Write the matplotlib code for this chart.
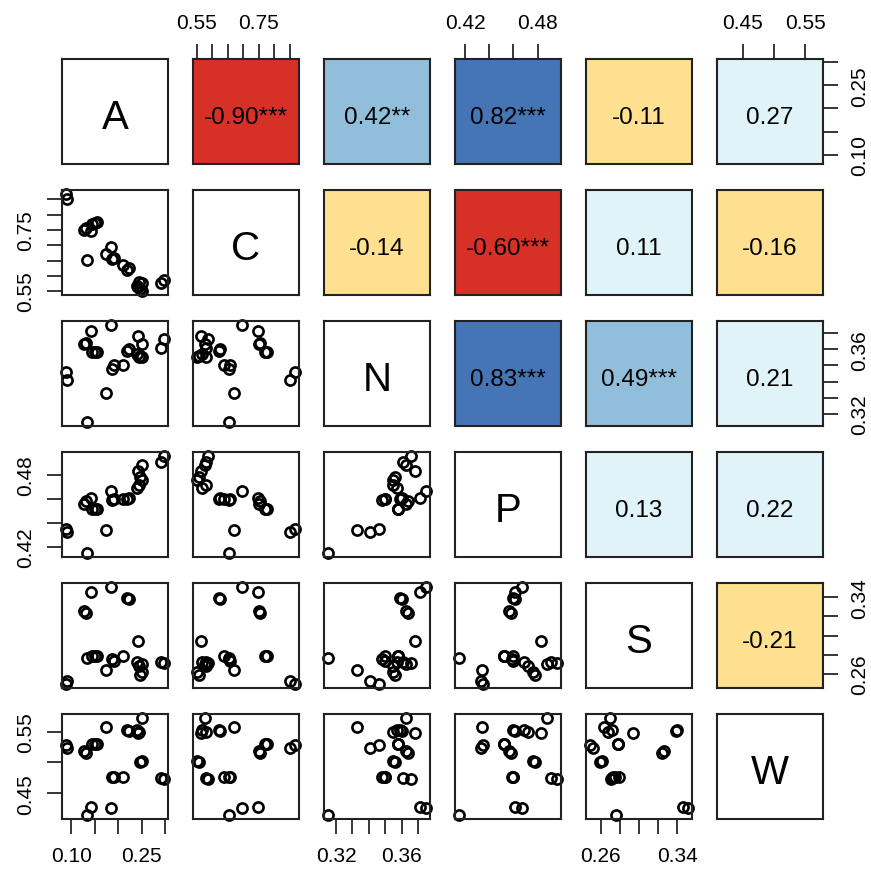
import numpy as np
import matplotlib.pyplot as plt

plt.rcParams['font.family'] = ['Liberation Sans', 'DejaVu Sans']

names = ['A', 'C', 'N', 'P', 'S', 'W']

# one value per sample
A = [0.089, 0.092, 0.143, 0.185, 0.128, 0.132, 0.145, 0.150, 0.155, 0.175, 0.133, 0.188,
     0.192, 0.210, 0.220, 0.224, 0.292, 0.298, 0.243, 0.247, 0.250, 0.252, 0.245, 0.240]
C = [0.868, 0.852, 0.747, 0.695, 0.750, 0.755, 0.770, 0.773, 0.776, 0.670, 0.653, 0.655,
     0.658, 0.637, 0.620, 0.625, 0.578, 0.585, 0.563, 0.556, 0.550, 0.576, 0.579, 0.567]
N = [0.346, 0.341, 0.371, 0.375, 0.363, 0.364, 0.358, 0.358, 0.358, 0.333, 0.315, 0.348,
     0.350, 0.350, 0.359, 0.360, 0.361, 0.366, 0.368, 0.356, 0.355, 0.363, 0.355, 0.357]
P = [0.435, 0.433, 0.461, 0.467, 0.456, 0.458, 0.452, 0.452, 0.452, 0.434, 0.415, 0.459,
     0.460, 0.460, 0.460, 0.461, 0.491, 0.496, 0.483, 0.478, 0.476, 0.488, 0.472, 0.469]
S = [0.249, 0.252, 0.346, 0.351, 0.326, 0.324, 0.278, 0.278, 0.278, 0.264, 0.276, 0.275,
     0.273, 0.279, 0.339, 0.338, 0.272, 0.271, 0.294, 0.259, 0.262, 0.270, 0.268, 0.272]
W = [0.529, 0.524, 0.428, 0.427, 0.518, 0.515, 0.530, 0.530, 0.530, 0.558, 0.415, 0.476,
     0.477, 0.476, 0.553, 0.551, 0.475, 0.474, 0.548, 0.501, 0.502, 0.572, 0.550, 0.552]

# axis ticks, R only labels some of them
A_ticks = [0.10, 0.15, 0.20, 0.25, 0.30]
A_labels = ['0.10', '', '', '0.25', '']
C_ticks = [0.55, 0.60, 0.65, 0.70, 0.75, 0.80, 0.85]
C_labels = ['0.55', '', '', '', '0.75', '', '']
N_ticks = [0.32, 0.33, 0.34, 0.35, 0.36, 0.37]
N_labels = ['0.32', '', '', '', '0.36', '']
P_ticks = [0.42, 0.44, 0.46, 0.48]
P_labels = ['0.42', '', '', '0.48']
S_ticks = [0.26, 0.28, 0.30, 0.32, 0.34]
S_labels = ['0.26', '', '', '', '0.34']
W_ticks = [0.45, 0.50, 0.55]
W_labels = ['0.45', '', '0.55']

# upper panels, row by row
cor_text = ['-0.90***', '0.42**', '0.82***', '-0.11', '0.27',
            '-0.14', '-0.60***', '0.11', '-0.16',
            '0.83***', '0.49***', '0.21',
            '0.13', '0.22',
            '-0.21']
cor_val = [-0.90, 0.42, 0.82, -0.11, 0.27,
           -0.14, -0.60, 0.11, -0.16,
           0.83, 0.49, 0.21,
           0.13, 0.22,
           -0.21]

data = [A, C, N, P, S, W]
ticks = [A_ticks, C_ticks, N_ticks, P_ticks, S_ticks, W_ticks]
labels = [A_labels, C_labels, N_labels, P_labels, S_labels, W_labels]


def cor_colour(r):
    if r <= -0.5:
        return '#D73027'
    if r < 0:
        return '#FEE090'
    if r < 0.3:
        return '#E0F3F8'
    if r < 0.7:
        return '#91BFDB'
    return '#4575B4'


def lims(v):
    lo, hi = min(v), max(v)
    d = (hi - lo) * 0.04
    return lo - d, hi + d


W_PX, H_PX = 871, 870
fig = plt.figure(figsize=(W_PX / 100, H_PX / 100), dpi=100)

n = len(names)
k = 0
for i in range(n):
    for j in range(n):
        left = 62 + 131 * j
        top = 60 + 131 * i
        ax = fig.add_axes([left / W_PX, 1 - (top + 105) / H_PX, 106 / W_PX, 105 / H_PX])
        ax.set_xlim(lims(data[j]))
        ax.set_ylim(lims(data[i]))
        for s in ax.spines.values():
            s.set_linewidth(1.5)
            s.set_color('#222222')
        ax.set_xticks([])
        ax.set_yticks([])

        if i == j:
            ax.text(0.5, 0.45, names[i], transform=ax.transAxes, ha='center', va='center',
                    fontsize=29)
        elif i > j:
            ax.plot(data[j], data[i], 'o', mfc='none', mec='black', ms=7.3, mew=1.9,
                    clip_on=False)
        else:
            ax.set_facecolor(cor_colour(cor_val[k]))
            ax.text(0.5, 0.45, cor_text[k], transform=ax.transAxes, ha='center', va='center',
                    fontsize=17.5)
            k += 1

        tp = dict(direction='out', length=10.5, width=1.1, labelsize=15, pad=9)
        if i == 0 and j % 2 == 1:
            ax.set_xticks(ticks[j])
            ax.set_xticklabels(labels[j])
            ax.xaxis.tick_top()
            ax.tick_params(axis='x', **tp)
        if i == n - 1 and j % 2 == 0:
            ax.set_xticks(ticks[j])
            ax.set_xticklabels(labels[j])
            ax.tick_params(axis='x', **tp)
        if j == 0 and i % 2 == 1:
            ax.set_yticks(ticks[i])
            ax.set_yticklabels(labels[i], rotation=90, va='center')
            ax.tick_params(axis='y', **tp)
        if j == n - 1 and i % 2 == 0:
            ax.set_yticks(ticks[i])
            ax.set_yticklabels(labels[i], rotation=90, va='center')
            ax.yaxis.tick_right()
            ax.tick_params(axis='y', **tp)

fig.savefig('out.png', dpi=100)
